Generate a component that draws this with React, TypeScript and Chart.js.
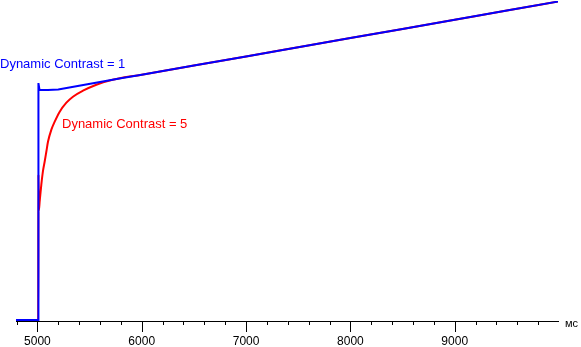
import React, { useEffect, useRef } from "react";
import { Chart, registerables } from "chart.js";

Chart.register(...registerables);

// Time axis (ms) and brightness-like values
const blueTimeMs = [4795, 5008, 5010, 5020, 5100, 5200, 5400, 5600, 5800, 6000, 6500, 7000, 7500, 8000, 8500, 9000, 9500, 9990];
const blueValues = [0, 0, 237.7, 231, 230.8, 231.2, 235.0, 238.7, 242.4, 246.1, 255.3, 264.4, 273.6, 282.8, 292.0, 301.2, 310.4, 319.4];

const redTimeMs = [4795, 5008, 5010, 5014, 5022, 5038, 5053, 5070, 5086, 5102, 5134, 5166, 5214, 5278, 5341, 5437, 5565, 5693, 6000, 6500, 7000, 7500, 8000, 8500, 9000, 9500, 9990];
const redValues = [0, 0, 146, 110, 119, 136, 149, 159, 169, 179, 191, 199, 209, 218, 224, 230, 236, 240.3, 246.1, 255.3, 264.4, 273.6, 282.8, 292.0, 301.2, 310.4, 319.4];

const tickValues = [4800, 5000, 5200, 5400, 5600, 5800, 6000, 6200, 6400, 6600, 6800, 7000, 7200, 7400, 7600, 7800, 8000, 8200, 8400, 8600, 8800, 9000, 9200, 9400, 9600, 9800];
const labeledTicks = [5000, 6000, 7000, 8000, 9000];

const blueLabel = "Dynamic Contrast = 1";
const redLabel = "Dynamic Contrast = 5";
const unitLabel = "мс";

const axisDecor = {
  id: "axisDecor",
  afterDraw(chart: any) {
    const ctx = chart.ctx;
    const xs = chart.scales.x;
    const y0 = Math.round(xs.top);
    ctx.save();
    ctx.strokeStyle = "#000";
    ctx.lineWidth = 1;
    tickValues.forEach((v) => {
      const px = Math.round(xs.getPixelForValue(v)) + 0.5;
      const len = labeledTicks.includes(v) ? 11 : 4;
      ctx.beginPath();
      ctx.moveTo(px, y0);
      ctx.lineTo(px, y0 + len);
      ctx.stroke();
    });
    ctx.fillStyle = "#000";
    ctx.font = "11px 'Liberation Sans'";
    ctx.textBaseline = "alphabetic";
    ctx.textAlign = "left";
    ctx.fillText(unitLabel, chart.chartArea.right + 7, y0 + 6);

    ctx.font = "13px 'Liberation Sans'";
    ctx.fillStyle = "#0000ff";
    ctx.fillText(blueLabel, 0, 68);
    ctx.fillStyle = "#ff0000";
    ctx.fillText(redLabel, 62, 128);
    ctx.restore();
  },
};

export default function App() {
  const ref = useRef<HTMLCanvasElement>(null);
  useEffect(() => {
    if (!ref.current) return;
    const chart = new Chart(ref.current, {
      type: "line",
      data: {
        datasets: [
          {
            label: blueLabel,
            data: blueTimeMs.map((t, i) => ({ x: t, y: blueValues[i] })),
            borderColor: "#0000ff",
            borderWidth: 2,
            pointRadius: 0,
            tension: 0,
          },
          {
            label: redLabel,
            data: redTimeMs.map((t, i) => ({ x: t, y: redValues[i] })),
            borderColor: "#ff0000",
            borderWidth: 2,
            pointRadius: 0,
            cubicInterpolationMode: "monotone",
          },
        ],
      },
      options: {
        animation: false,
        responsive: false,
        layout: { padding: { left: 16, right: 23, top: 1, bottom: 0 } },
        plugins: { legend: { display: false }, tooltip: { enabled: false } },
        scales: {
          x: {
            type: "linear",
            min: 4795,
            max: 9990,
            afterFit: (s: any) => {
              s.height = 26;
            },
            afterBuildTicks: (s: any) => {
              s.ticks = labeledTicks.map((v) => ({ value: v }));
            },
            border: { display: true, color: "#000", width: 1 },
            grid: { display: true, drawOnChartArea: false, drawTicks: true, tickLength: 11, tickColor: "rgba(0,0,0,0)" },
            ticks: {
              autoSkip: false,
              maxRotation: 0,
              padding: 2,
              color: "#000",
              font: { family: "'Liberation Sans'", size: 12 },
              callback: (v: any) => String(v),
            },
          },
          y: { display: false, min: -1, max: 320 },
        },
      },
      plugins: [axisDecor],
    });
    return () => chart.destroy();
  }, []);
  return (
    <canvas
      ref={ref}
      width={581}
      height={347}
      style={{ position: "absolute", left: 0, top: 0, width: 581, height: 347 }}
    />
  );
}
